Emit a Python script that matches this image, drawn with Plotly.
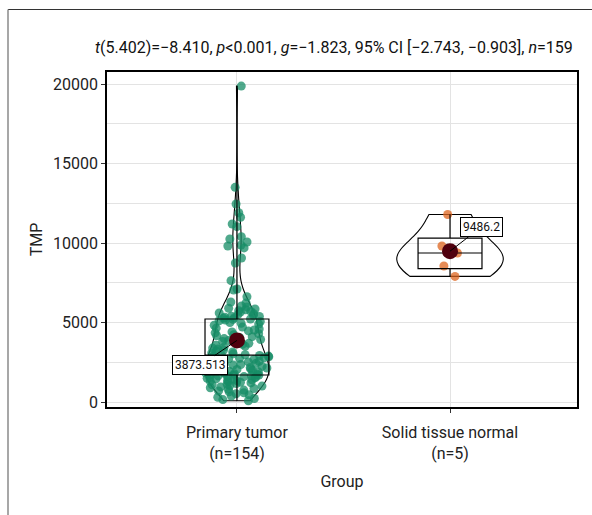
import numpy as np
import plotly.graph_objects as go

# ---------------- data ----------------
groups = ["Primary tumor", "Solid tissue normal"]
group_counts_label = ["(n=154)", "(n=5)"]

tumor_tmp = [
    # lower part
    80, 150, 220, 300, 380, 450, 520, 580, 640, 700, 750, 800, 850, 900, 950,
    1000, 1040, 1080, 1120, 1160, 1200, 1240, 1280, 1310, 1340, 1370, 1400, 1430,
    1460, 1490, 1520, 1550, 1580, 1600, 1620, 1640, 1660, 1680, 1700,
    # lower-middle
    1720, 1750, 1780, 1810, 1840, 1870, 1900, 1930, 1960, 1990, 2020, 2050, 2080,
    2110, 2140, 2170, 2200, 2240, 2280, 2320, 2360, 2400, 2440, 2480, 2520, 2560,
    2600, 2640, 2680, 2720, 2750, 2780, 2810, 2840, 2870, 2890, 2910, 2930,
    # upper-middle
    2970, 3030, 3090, 3150, 3210, 3270, 3330, 3390, 3450, 3510, 3570, 3630, 3690,
    3750, 3810, 3870, 3930, 3990, 4050, 4110, 4170, 4230, 4290, 4350, 4410, 4470,
    4530, 4590, 4650, 4710, 4830, 4900, 4950, 5000, 5060, 5110, 5160, 5196,
    # upper tail
    5220, 5260, 5300, 5330, 5380, 5400, 5450, 5500, 5560, 5600, 5650, 5700, 5745,
    5800, 5850, 5900, 5980, 6040, 6230, 6290, 6620, 7045, 7110, 7630, 8740, 9060,
    9690, 9810, 9870, 10060, 10250, 10400, 11030, 11195, 11620, 11900, 12450,
    13500, 19870,
]
normal_tmp = [7900, 8553, 9371, 9811, 11796]

title_html = ("<i>t</i>(5.402)=\u22128.410, <i>p</i>&lt;0.001, <i>g</i>=\u22121.823, "
              "95% CI [\u22122.743, \u22120.903], <i>n</i>=159")

# ---------------- styling ----------------
FONT = "Roboto, DejaVu Sans, sans-serif"
point_colors = ["rgba(22,140,102,0.75)", "rgba(222,100,30,0.75)"]
point_jitter = [1.0, 0.3]
violin_widths = [0.30, 0.50]
box_width = 0.30
mean_color = "#50000e"

data_sets = [tumor_tmp, normal_tmp]

fig = go.Figure()

# jittered raw points (box trace used only for its points)
for g, vals, col, jit in zip(groups, data_sets, point_colors, point_jitter):
    fig.add_trace(go.Box(
        x=[g] * len(vals), y=vals, boxpoints="all", jitter=jit, pointpos=0,
        width=box_width, line=dict(width=0, color="rgba(0,0,0,0)"),
        fillcolor="rgba(0,0,0,0)", marker=dict(color=col, size=9),
        showlegend=False, hoverinfo="y",
    ))

# violins (outline only)
for g, vals, w in zip(groups, data_sets, violin_widths):
    fig.add_trace(go.Violin(
        x=[g] * len(vals), y=vals, points=False, spanmode="hard",
        width=w, line=dict(color="black", width=1.1),
        fillcolor="rgba(0,0,0,0)", box=dict(visible=False),
        meanline=dict(visible=False), showlegend=False, hoverinfo="skip",
    ))

# boxplots (outline only)
for g, vals in zip(groups, data_sets):
    fig.add_trace(go.Box(
        x=[g] * len(vals), y=vals, boxpoints=False, width=box_width,
        quartilemethod="linear", whiskerwidth=0,
        line=dict(color="black", width=1.2), fillcolor="rgba(0,0,0,0)",
        showlegend=False, hoverinfo="skip",
    ))

# means
means = [float(np.mean(v)) for v in data_sets]
fig.add_trace(go.Scatter(
    x=groups, y=means, mode="markers",
    marker=dict(color=mean_color, size=16), showlegend=False, hoverinfo="y",
))


def fmt(v):
    s = f"{v:.3f}".rstrip("0").rstrip(".")
    return s


label_offsets = [(-37, 25), (31, -24)]
for g, m, (ax, ay) in zip(groups, means, label_offsets):
    fig.add_annotation(
        x=g, y=m, text=fmt(m), showarrow=True, arrowhead=0, arrowwidth=1,
        arrowcolor="black", ax=ax, ay=ay, bgcolor="white", bordercolor="black",
        borderwidth=1, borderpad=2,
        font=dict(family=FONT, size=12, color="#111"),
    )

# decorative outer frame lines
ML, MR, MT, MB = 107, 15, 72, 108
W, H = 592, 515
pw, ph = W - ML - MR, H - MT - MB


def px_x(px):
    return (px - ML) / pw


def px_y(py):
    return (H - MB - py) / ph


fig.add_shape(type="line", xref="paper", yref="paper",
              x0=px_x(8), x1=px_x(593), y0=px_y(9.5), y1=px_y(9.5),
              line=dict(color="#333333", width=1.2))
fig.add_shape(type="line", xref="paper", yref="paper",
              x0=px_x(8), x1=px_x(8), y0=px_y(9.5), y1=px_y(516),
              line=dict(color="#8a8a8a", width=1.5))

# title as annotation
fig.add_annotation(
    text=title_html, xref="paper", yref="paper", x=px_x(334), y=px_y(48),
    xanchor="center", yanchor="middle", showarrow=False,
    font=dict(family=FONT, size=16, color="#111"),
)

fig.update_layout(
    width=W, height=H, margin=dict(l=ML, r=MR, t=MT, b=MB),
    paper_bgcolor="white", plot_bgcolor="white",
    boxmode="overlay", violinmode="overlay",
    font=dict(family=FONT, size=16, color="#222"),
)

fig.update_xaxes(
    categoryorder="array", categoryarray=groups,
    tickvals=groups,
    ticktext=[f"{g}<br>{n}" for g, n in zip(groups, group_counts_label)],
    range=[-0.61, 1.596],
    showgrid=True, gridcolor="#e3e3e3", gridwidth=1,
    showline=True, linecolor="black", linewidth=1.5, mirror=True,
    ticks="outside", ticklen=4, tickcolor="#333", ticklabelstandoff=6,
    title=dict(text="Group", standoff=14, font=dict(family=FONT, size=16)),
    tickfont=dict(family=FONT, size=16, color="#222"),
)
fig.update_yaxes(
    range=[-314, 20755], tickvals=[0, 5000, 10000, 15000, 20000],
    tickformat="d",
    showgrid=True, gridcolor="#e3e3e3", gridwidth=1,
    minor=dict(tickvals=[2500, 7500, 12500, 17500], showgrid=True,
               gridcolor="#e3e3e3", gridwidth=1),
    showline=True, linecolor="black", linewidth=1.5, mirror=True,
    ticks="outside", ticklen=4, tickcolor="#333", zeroline=False,
    title=dict(text="TMP", standoff=6, font=dict(family=FONT, size=16)),
    tickfont=dict(family=FONT, size=16, color="#222"),
)

fig.write_html("out.html")
